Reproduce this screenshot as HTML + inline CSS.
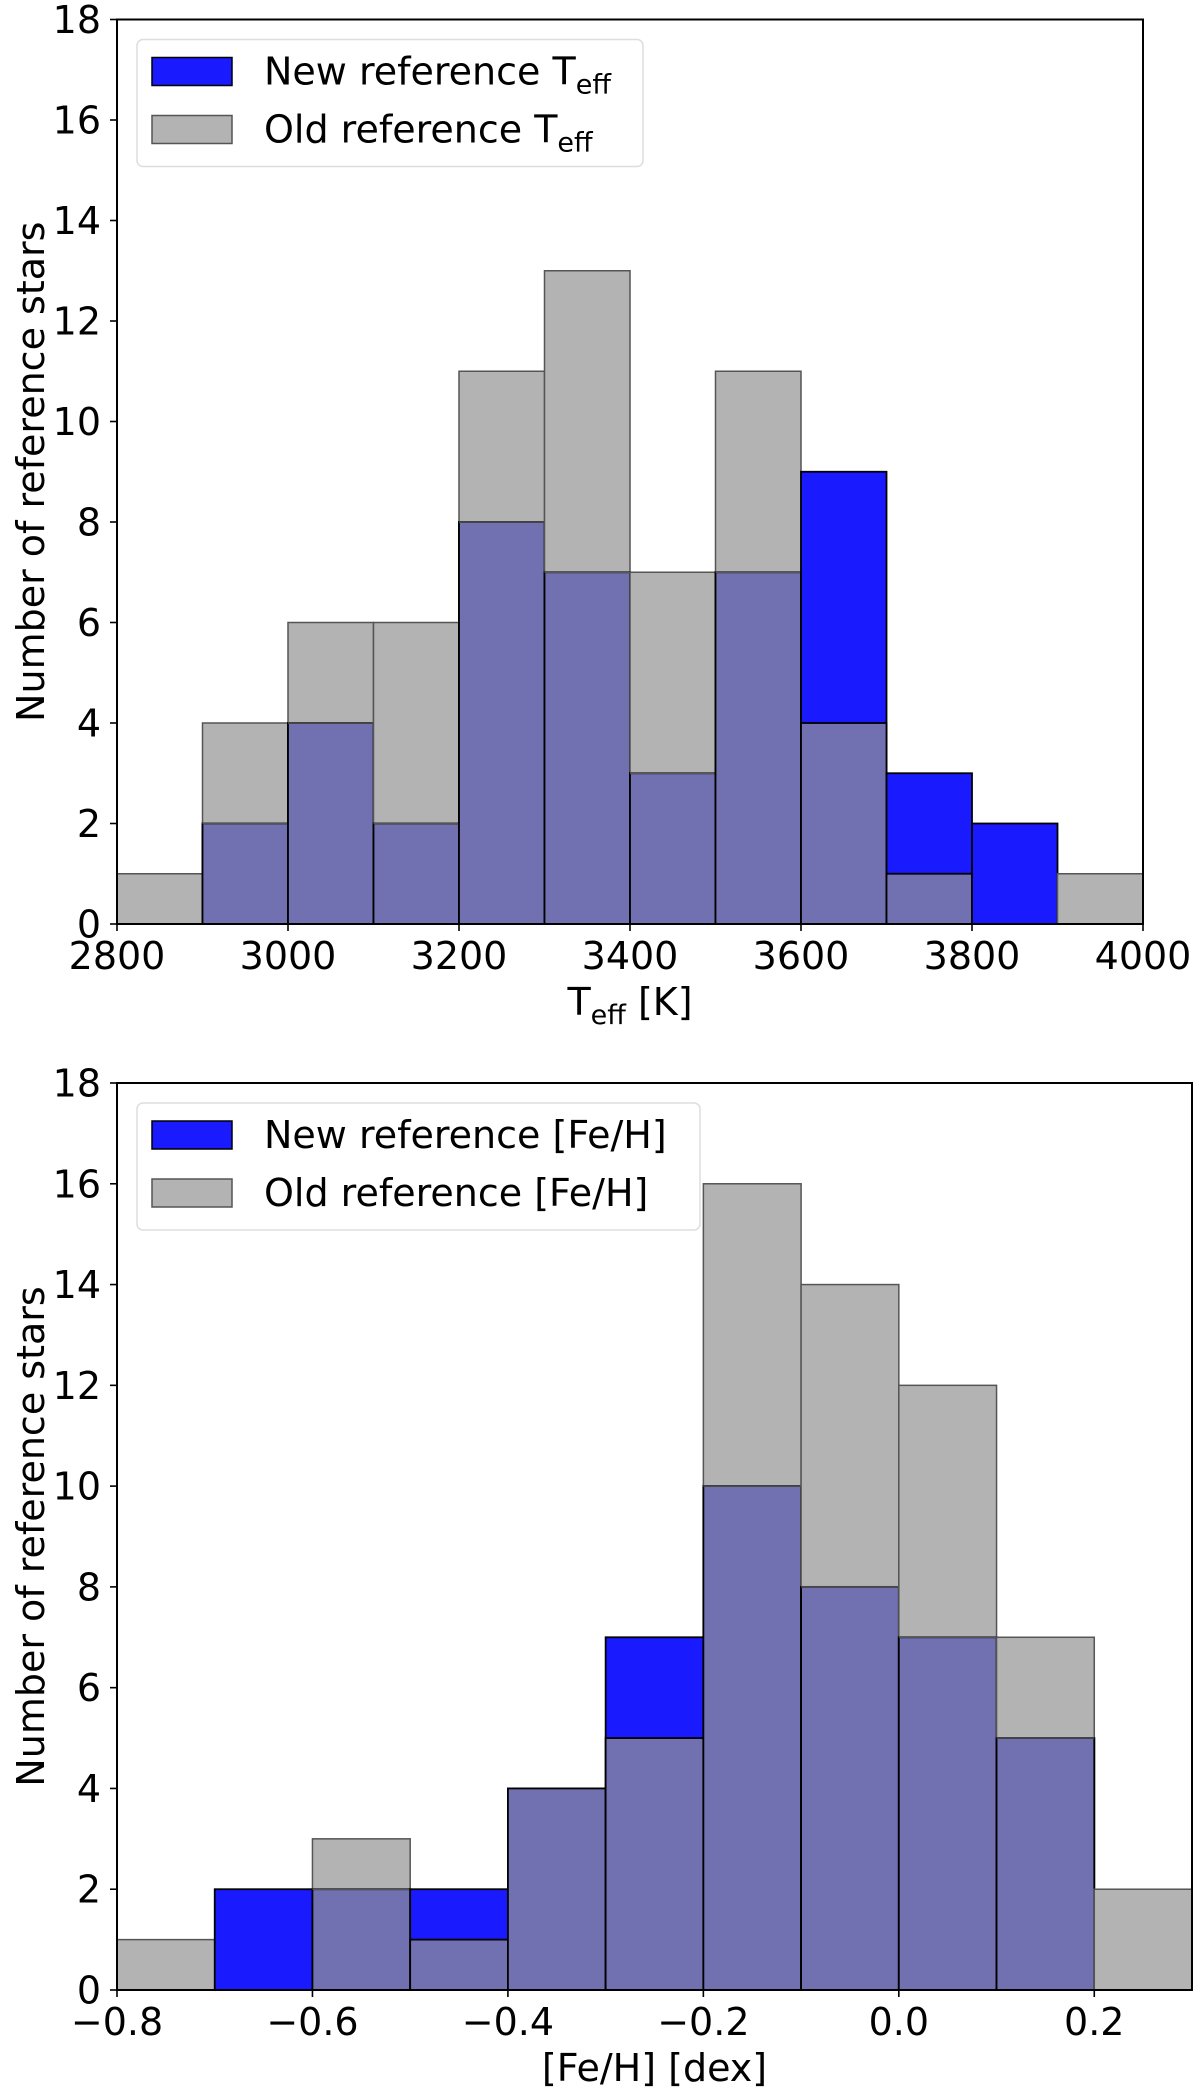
<!DOCTYPE html>
<html><head><meta charset="utf-8"><style>
html,body{margin:0;padding:0;background:#fff;}
svg{display:block;font-family:"DejaVu Sans","Liberation Sans",sans-serif;}
</style></head><body>
<svg id="fig" width="1200" height="2092" viewBox="0 0 1200 2092"></svg>
<script>
// Top chart data (Teff bins, 100 K wide from 2800)
const teffEdges = [2800,2900,3000,3100,3200,3300,3400,3500,3600,3700,3800,3900,4000];
const teffOld = [1,4,6,6,11,13,7,11,4,1,0,1];
const teffNew = [0,2,4,2,8,7,3,7,9,3,2,0];
const teffTicks = [2800,3000,3200,3400,3600,3800,4000];
// Bottom chart data ([Fe/H] bins, 0.1 dex wide from -0.8)
const fehEdges = [-0.8,-0.7,-0.6,-0.5,-0.4,-0.3,-0.2,-0.1,0.0,0.1,0.2,0.3];
const fehOld = [1,0,3,1,4,5,16,14,12,7,2];
const fehNew = [0,2,2,2,4,7,10,8,7,5,0];
const fehTicks = [-0.8,-0.6,-0.4,-0.2,0.0,0.2];
const fehTickLabels = ["−0.8","−0.6","−0.4","−0.2","0.0","0.2"];
const yTicks = [0,2,4,6,8,10,12,14,16,18];

const NS = "http://www.w3.org/2000/svg";
const svg = document.getElementById('fig');
const FS = 38;
function mk(tag, attrs, parent){
  const e = document.createElementNS(NS, tag);
  for (const k in attrs) e.setAttribute(k, attrs[k]);
  (parent||svg).appendChild(e);
  return e;
}

function chart(cfg){
  const g = mk('g', {});
  
  
  const sx = v => cfg.x0 + (v - cfg.xmin) / (cfg.xmax - cfg.xmin) * (cfg.x1 - cfg.x0);
  const sy = v => cfg.y0 + (v / 18) * (cfg.y1 - cfg.y0);
  const n = cfg.old.length;
  for (let i = 0; i < n; i++) {
    const xa = sx(cfg.edges[i]), xb = sx(cfg.edges[i+1]);
    const o = cfg.old[i], nw = cfg.newv[i];
    if (o > 0) {
      const r = mk('rect', {x:xa, y:sy(o), width:xb-xa, height:sy(0)-sy(o), fill:'#b3b3b3', stroke:'#555', 'stroke-width':1.5}, g);
      
      
    }
    if (nw > 0) {
      const r = mk('rect', {x:xa, y:sy(nw), width:xb-xa, height:sy(0)-sy(nw), fill:'#1a1aff', stroke:'#000', 'stroke-width':1.8}, g);
      
      
    }
    const m = Math.min(o, nw);
    if (m > 0) {
      const r = mk('rect', {x:xa, y:sy(m), width:xb-xa, height:sy(0)-sy(m), fill:'#7171b1', stroke:'#000', 'stroke-width':1.8}, g);
      
      
      if (o > nw) mk('line', {x1:xa, x2:xb, y1:sy(m), y2:sy(m), stroke:'#555', 'stroke-width':1.5}, g);
    }
  }
  const frame = mk('rect', {x:cfg.x0, y:cfg.y1, width:cfg.x1-cfg.x0, height:cfg.y0-cfg.y1, fill:'none', stroke:'#000', 'stroke-width':2}, g);
  
  
  yTicks.forEach(t => {
    const y = sy(t);
    mk('line', {x1:cfg.x0-7, x2:cfg.x0, y1:y, y2:y, stroke:'#000', 'stroke-width':1.6}, g);
    const tx = mk('text', {x:cfg.x0-16, y:y+13.5, 'font-size':FS, 'text-anchor':'end'}, g);
    tx.textContent = t;
    
    
  });
  cfg.ticks.forEach((t, i) => {
    const x = sx(t);
    mk('line', {x1:x, x2:x, y1:cfg.y0, y2:cfg.y0+7, stroke:'#000', 'stroke-width':1.6}, g);
    const tx = mk('text', {x:x, y:cfg.y0+45, 'font-size':FS, 'text-anchor':'middle'}, g);
    tx.textContent = cfg.tickLabels[i];
    
    
  });
  const yl = mk('text', {x:0, y:0, 'font-size':FS, 'text-anchor':'middle', transform:'translate(44,' + ((cfg.y0+cfg.y1)/2) + ') rotate(-90)'}, g);
  yl.textContent = 'Number of reference stars';
  
  
  const xl = mk('text', {x:(cfg.x0+cfg.x1)/2, y:cfg.y0+91, 'font-size':FS, 'text-anchor':'middle'}, g);
  xl.innerHTML = cfg.xlabel;
  
  
  // legend
  const lg = mk('g', {}, g);
  
  
  const ly = cfg.y1 + 20;
  mk('rect', {x:137, y:ly, width:cfg.legW, height:127, rx:6, fill:'#fff', 'fill-opacity':0.8, stroke:'#ddd', 'stroke-width':1.5}, lg);
  const p1 = mk('rect', {x:152, y:ly+18, width:80, height:28, fill:'#1a1aff', stroke:'#000', 'stroke-width':1.5}, lg);
  
  
  const p2 = mk('rect', {x:152, y:ly+76, width:80, height:28, fill:'#b3b3b3', stroke:'#555', 'stroke-width':1.5}, lg);
  
  
  const t1 = mk('text', {x:264, y:ly+45, 'font-size':FS}, lg);
  t1.innerHTML = cfg.leg1;
  
  
  const t2 = mk('text', {x:264, y:ly+103, 'font-size':FS}, lg);
  t2.innerHTML = cfg.leg2;
  
  
}

chart({name:'teff-histogram', x0:117, x1:1143, y0:924, y1:19.5, xmin:2800, xmax:4000,
  edges:teffEdges, old:teffOld, newv:teffNew, ticks:teffTicks, tickLabels:teffTicks.map(String),
  xlabel:'T<tspan font-size="27" dy="9">eff</tspan><tspan dy="-9"> [K]</tspan>',
  leg1:'New reference T<tspan font-size="27" dy="9">eff</tspan>',
  leg2:'Old reference T<tspan font-size="27" dy="9">eff</tspan>', legW:506});
chart({name:'feh-histogram', x0:117, x1:1192, y0:1990, y1:1083, xmin:-0.8, xmax:0.3,
  edges:fehEdges, old:fehOld, newv:fehNew, ticks:fehTicks, tickLabels:fehTickLabels,
  xlabel:'[Fe/H] [dex]',
  leg1:'New reference [Fe/H]', leg2:'Old reference [Fe/H]', legW:563});
</script>
</body></html>
